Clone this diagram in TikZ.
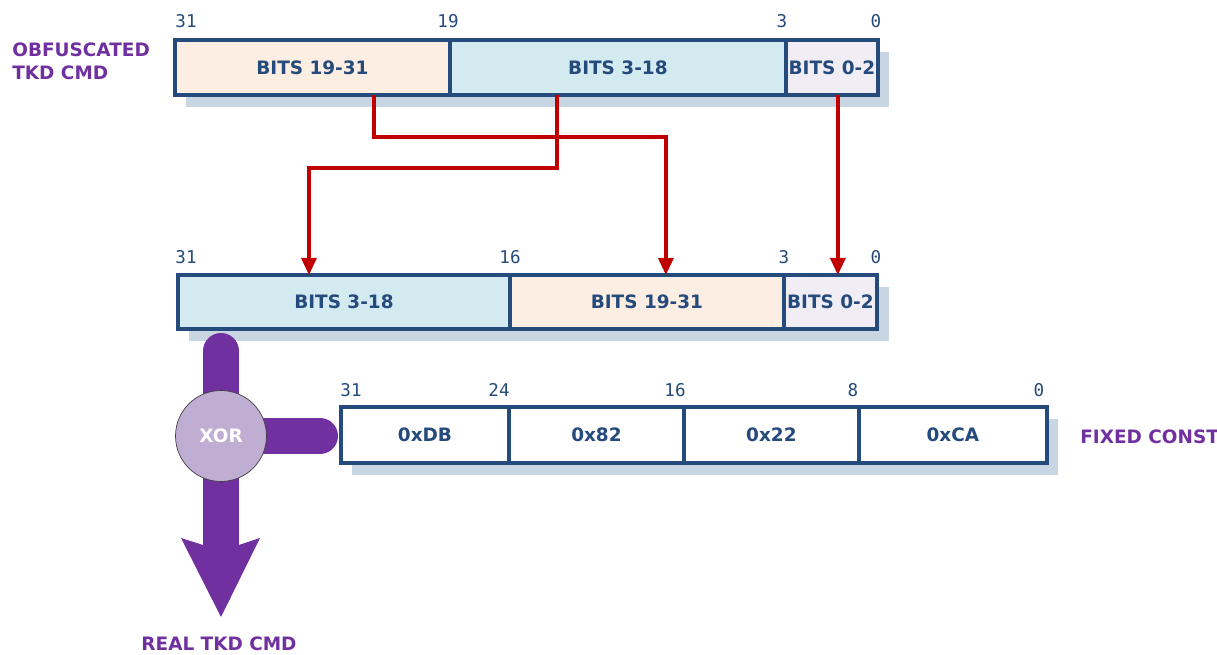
\documentclass[tikz,border=0pt]{standalone}
\usepackage{fontspec}
\setmainfont{DejaVu Sans}
\newfontfamily\bitfont{DejaVu Sans Mono}
\usetikzlibrary{arrows.meta}

\definecolor{regblue}{HTML}{254A7C}
\definecolor{peach}{HTML}{FCEEE2}
\definecolor{iceblue}{HTML}{D2EAF0}
\definecolor{paleviolet}{HTML}{F0EEF4}
\definecolor{shadowblue}{HTML}{C8D5E3}
\definecolor{xorpurple}{HTML}{7030A0}
\definecolor{xorfill}{HTML}{C0AED2}
\definecolor{arrowred}{HTML}{C00000}

\begin{document}
\begin{tikzpicture}[
    x=0.02cm, y=0.02cm,
    field/.style={draw=regblue, line width=2pt, inner sep=0pt, outer sep=0pt,
        anchor=north west, minimum height=1.1cm, text=regblue, fill=white,
        font=\bfseries\fontsize{10.5}{12}\selectfont},
    bitnum/.style={text=regblue, inner sep=0pt, font=\bitfont\fontsize{10}{11}\selectfont},
    regshadow/.style={fill=shadowblue},
    tag/.style={text=xorpurple, inner sep=0pt, align=left,
        font=\bfseries\fontsize{10.5}{13}\selectfont},
    redarrow/.style={draw=arrowred, line width=1.9pt,
        -{Triangle[width=0.3cm, length=0.34cm]}},
    purplebar/.style={draw=xorpurple, line width=0.72cm},
    xorball/.style={circle, draw=black!75, thin, fill=xorfill, minimum size=1.82cm,
        inner sep=0pt, text=white, font=\bfseries\fontsize{10.5}{12}\selectfont},
]

\useasboundingbox (0,0) rectangle (1217,655);
\fill[white] (0,0) rectangle (1217,655);

% ── Shadows ─────────────────────────────────────────────────
\fill[regshadow] (186,548) rectangle (889,603);
\fill[regshadow] (189,314) rectangle (889,368);
\fill[regshadow] (352,180) rectangle (1058,236);

% ── Obfuscated command ──────────────────────────────────────
\node[field, fill=peach, minimum width=5.5cm] (o1) at (175,615) {BITS 19-31};
\node[field, fill=iceblue, minimum width=6.72cm] (o2) at (o1.north east) {BITS 3-18};
\node[field, fill=paleviolet, minimum width=1.84cm] (o3) at (o2.north east) {BITS 0-2};

\node[tag, anchor=west] (obf) at (12,594) {OBFUSCATED\\TKD CMD};

\foreach \x/\b in {186/31, 448/19, 782/3, 876/0}
    \node[bitnum] at (\x,634) {\b};

% ── Reordered command ───────────────────────────────────────
\node[field, fill=iceblue, minimum width=6.64cm, minimum height=1.08cm] (m1) at (178,380) {BITS 3-18};
\node[field, fill=peach, minimum width=5.48cm, minimum height=1.08cm] (m2) at (m1.north east) {BITS 19-31};
\node[field, fill=paleviolet, minimum width=1.86cm, minimum height=1.08cm] (m3) at (m2.north east) {BITS 0-2};

\foreach \x/\b in {186/31, 510/16, 784/3, 876/0}
    \node[bitnum] at (\x,398) {\b};

% ── Fixed constant ──────────────────────────────────────────
\node[field, minimum width=3.36cm, minimum height=1.12cm] (c1) at (341,248) {0xDB};
\node[field, minimum width=3.5cm, minimum height=1.12cm] (c2) at (c1.north east) {0x82};
\node[field, minimum width=3.5cm, minimum height=1.12cm] (c3) at (c2.north east) {0x22};
\node[field, minimum width=3.76cm, minimum height=1.12cm] (c4) at (c3.north east) {0xCA};

\node[tag, anchor=west] (fixed) at (1080,218) {FIXED CONST};

\foreach \x/\b in {351/31, 499/24, 675/16, 853/8, 1039/0}
    \node[bitnum] at (\x,265) {\b};

% ── Bit shuffle ─────────────────────────────────────────────
\draw[redarrow] ([xshift=1.23cm]o1.south) -- ++(0,-0.84cm) -| ([xshift=0.38cm]m2.north);
\draw[redarrow] ([xshift=-1.22cm]o2.south) -- ++(0,-1.46cm) -| ([xshift=-0.7cm]m1.north);
\draw[redarrow] ([xshift=0.12cm]o3.south) -- ([xshift=0.12cm]o3.south |- m3.north);

% ── XOR ─────────────────────────────────────────────────────
\coordinate (xc) at (221,219);
\draw[purplebar, line cap=round] (xc) -- ++(0,85);
\draw[purplebar, line cap=round] (xc) -- ([xshift=-0.42cm]c1.west |- xc);
\draw[purplebar] (xc) -- ++(0,-111);
\coordinate (tip) at (221,38);
\fill[xorpurple] (203,110) -- (181,117) -- (tip) -- (260,117) -- (239,110) -- cycle;

\node[xorball] (xor) at (xc) {XOR};

\node[tag] (real) at (219,11) {REAL TKD CMD};

\end{tikzpicture}
\end{document}
